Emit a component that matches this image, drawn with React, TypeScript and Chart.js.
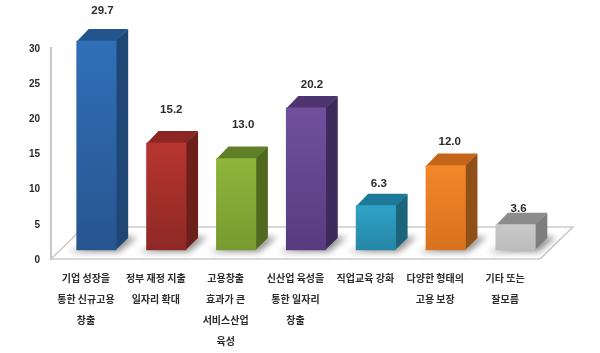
import React, { useEffect, useRef } from "react";
import { Chart, registerables } from "chart.js";

Chart.register(...registerables);

const categories: string[][] = [
  ["기업 성장을", "통한 신규고용", "창출"],
  ["정부 재정 지출", "일자리 확대"],
  ["고용창출", "효과가 큰", "서비스산업", "육성"],
  ["신산업 육성을", "통한 일자리", "창출"],
  ["직업교육 강화"],
  ["다양한 형태의", "고용 보장"],
  ["기타 또는", "잘모름"],
];
const values = [29.7, 15.2, 13.0, 20.2, 6.3, 12.0, 3.6];

const frontTop = ["#306fb8", "#b8352f", "#8fb53b", "#70509d", "#2fa2c6", "#f4862a", "#c8c8c8"];
const frontBottom = ["#27558f", "#8e2926", "#789a30", "#573b7e", "#2686a6", "#d8721e", "#bcbcbc"];
const sideColors = ["#1f4674", "#6d1f1c", "#50691f", "#3d2a5b", "#1c6479", "#8f5018", "#7e7e7e"];
const topColors = ["#23548c", "#8c2622", "#5f8027", "#4e3570", "#1f7a99", "#c4651a", "#8c8c8c"];
const labelLift = [18.5, 21, 22, 11, 10, 11.5, 4];
const labelShift = [0, -1, 1, 0, -3, -2, -3];

const SHIFT_X = 10.5;
const SHIFT_Y = -9;
const DEPTH = 12;

const bar3d = {
  id: "bar3d",
  beforeDatasetsDraw(chart: any) {
    const { ctx, chartArea: a } = chart;
    const bars = chart.getDatasetMeta(0).data;

    ctx.save();
    ctx.beginPath();
    ctx.moveTo(a.left, a.bottom);
    ctx.lineTo(a.right, a.bottom);
    ctx.lineTo(a.right + 33, a.bottom - 32);
    ctx.lineTo(a.left + 33, a.bottom - 32);
    ctx.closePath();
    ctx.fillStyle = "#ffffff";
    ctx.fill();
    ctx.strokeStyle = "#cbcbcb";
    ctx.lineWidth = 1.6;
    ctx.stroke();

    ctx.filter = "blur(3px)";
    ctx.fillStyle = "rgba(0,0,0,0.42)";
    bars.forEach((b: any) => {
      const l = b.x - b.width / 2 + SHIFT_X;
      const r = b.x + b.width / 2 + SHIFT_X;
      const y = b.base + SHIFT_Y;
      ctx.beginPath();
      ctx.moveTo(l - 8, y + 2);
      ctx.lineTo(r + 3, y + 2);
      ctx.lineTo(r + 21, y - 13);
      ctx.lineTo(r, y - 13);
      ctx.closePath();
      ctx.fill();
    });
    ctx.filter = "none";
    ctx.restore();

    ctx.save();
    ctx.translate(SHIFT_X, SHIFT_Y);
    bars.forEach((b: any, i: number) => {
      const l = b.x - b.width / 2;
      const r = b.x + b.width / 2;
      ctx.fillStyle = sideColors[i];
      ctx.beginPath();
      ctx.moveTo(r - 0.5, b.y);
      ctx.lineTo(r + DEPTH, b.y - DEPTH);
      ctx.lineTo(r + DEPTH, b.base - DEPTH);
      ctx.lineTo(r - 0.5, b.base);
      ctx.closePath();
      ctx.fill();
      ctx.fillStyle = topColors[i];
      ctx.beginPath();
      ctx.moveTo(l, b.y + 0.5);
      ctx.lineTo(l + DEPTH, b.y - DEPTH);
      ctx.lineTo(r + DEPTH, b.y - DEPTH);
      ctx.lineTo(r, b.y + 0.5);
      ctx.closePath();
      ctx.fill();
    });
  },
  afterDatasetsDraw(chart: any) {
    const { ctx } = chart;
    ctx.restore();
    const bars = chart.getDatasetMeta(0).data;
    ctx.save();
    ctx.font = 'bold 11.5px "Liberation Sans", sans-serif';
    ctx.fillStyle = "#2b2b2b";
    ctx.textAlign = "center";
    ctx.textBaseline = "middle";
    bars.forEach((b: any, i: number) => {
      ctx.fillText(
        values[i].toFixed(1),
        b.x + SHIFT_X + DEPTH / 2 + labelShift[i],
        b.y + SHIFT_Y - DEPTH - labelLift[i],
      );
    });
    ctx.restore();
  },
};

export default function App() {
  const ref = useRef<HTMLCanvasElement>(null);
  useEffect(() => {
    const chart = new Chart(ref.current!, {
      type: "bar",
      data: {
        labels: categories,
        datasets: [
          {
            data: values,
            barThickness: 39.5,
            clip: false,
            backgroundColor: (c: any) => {
              const i = c.dataIndex;
              const s = c.chart.scales.y;
              if (!s || i === undefined) return frontTop[0];
              const y0 = s.getPixelForValue(values[i]);
              const y1 = s.getPixelForValue(0);
              if (!Number.isFinite(y0) || !Number.isFinite(y1)) return frontTop[i];
              const g = c.chart.ctx.createLinearGradient(0, y0, 0, y1);
              g.addColorStop(0, frontTop[i]);
              g.addColorStop(1, frontBottom[i]);
              return g;
            },
          } as any,
        ],
      },
      plugins: [bar3d],
      options: {
        responsive: false,
        animation: false,
        layout: { padding: { top: 48, right: 60, left: 0, bottom: 0 } },
        plugins: { legend: { display: false }, tooltip: { enabled: false } },
        scales: {
          x: {
            grid: { display: false, drawTicks: false },
            border: { display: false },
            afterFit: (s: any) => {
              s.height = 94;
            },
            ticks: {
              autoSkip: false,
              maxRotation: 0,
              minRotation: 0,
              padding: 9,
              color: "#2b2b2b",
              font: { family: '"Noto Sans CJK KR"', size: 10, weight: "bold", lineHeight: 2.1 },
            },
          },
          y: {
            min: 0,
            max: 30,
            grid: { display: false, drawTicks: false },
            border: { color: "#c8c8c8", width: 2 },
            afterFit: (s: any) => {
              s.width = 51;
            },
            ticks: {
              stepSize: 5,
              padding: 11,
              labelOffset: 1,
              color: "#2b2b2b",
              font: { family: '"Liberation Sans"', size: 10, weight: "bold" },
            },
          },
        },
      } as any,
    });
    return () => chart.destroy();
  }, []);
  return (
    <div style={{ position: "absolute", left: 0, top: 0, width: 600, height: 353, background: "#fff" }}>
      <canvas ref={ref} width={600} height={353} style={{ display: "block", filter: "blur(0.5px)" }} />
    </div>
  );
}
